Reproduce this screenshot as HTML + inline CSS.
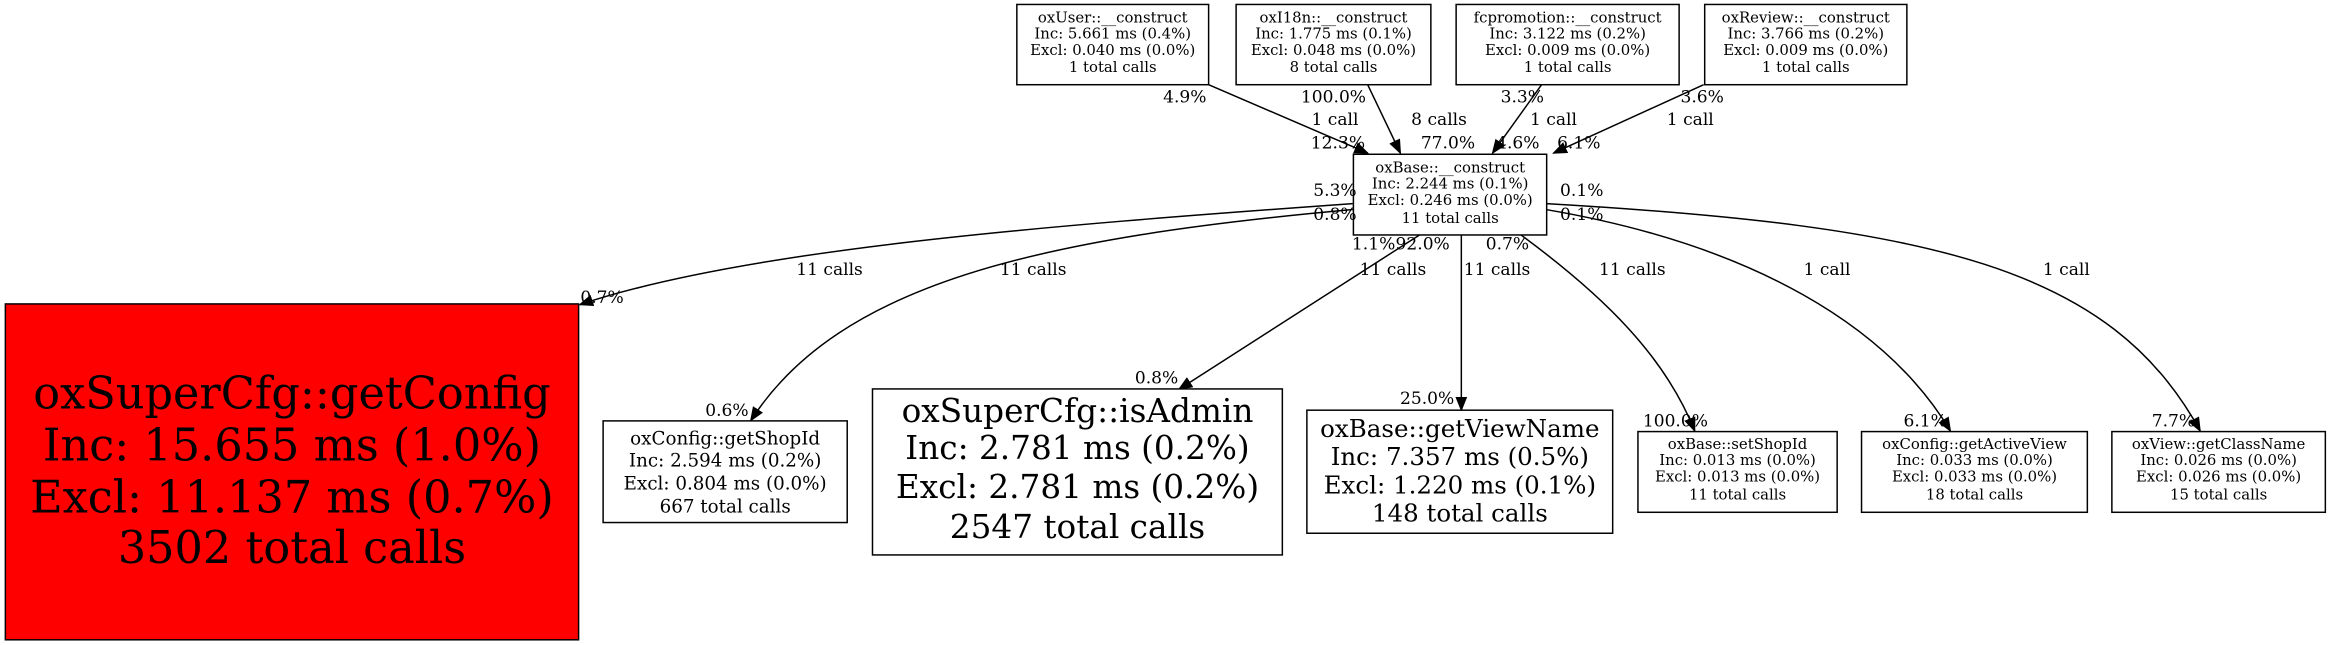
<!DOCTYPE html>
<html><head><meta charset="utf-8"><style>html,body{margin:0;padding:0;background:#fff}svg{display:block}</style></head>
<body>
<svg width="2331" height="645" viewBox="0 0 1568 434" preserveAspectRatio="none" xmlns="http://www.w3.org/2000/svg" font-family="DejaVu Serif, serif">
<defs><marker id="a" markerWidth="10" markerHeight="8" refX="9" refY="4" orient="auto" markerUnits="userSpaceOnUse"><path d="M0,0 L10,4 L0,8 z" fill="#000"/></marker></defs>
<g fill="none" stroke="#000" stroke-width="1" marker-end="url(#a)">
<path d="M813,57 L920,103"/>
<path d="M920,57 L942,103"/>
<path d="M1037,57 L1004,103"/>
<path d="M1146,57 L1045,103"/>
<path d="M910,137 C700,152 500,168 390,205"/>
<path d="M910,141 C700,160 565,190 505,283"/>
<path d="M955,158 L793,262"/>
<path d="M983,158 L983,276"/>
<path d="M1023,158 C1080,200 1120,240 1140,290"/>
<path d="M1040,141 C1180,165 1270,220 1312,290"/>
<path d="M1040,137 C1300,152 1420,180 1480,290"/>
</g>
<g stroke="#000" stroke-width="1">
<rect x="684" y="3" width="129" height="54" fill="#fff"/>
<rect x="831.5" y="3" width="131" height="54" fill="#fff"/>
<rect x="979.5" y="3" width="150" height="54" fill="#fff"/>
<rect x="1146.7" y="3" width="136" height="54" fill="#fff"/>
<rect x="910.4" y="103.8" width="130" height="54.3" fill="#fff"/>
<rect x="3.6" y="204.5" width="385.6" height="226" fill="#ff0000"/>
<rect x="405.7" y="283.2" width="164.2" height="68.4" fill="#fff"/>
<rect x="586.9" y="261.7" width="275.7" height="111.7" fill="#fff"/>
<rect x="879.1" y="276" width="205.7" height="82.8" fill="#fff"/>
<rect x="1101.8" y="290.4" width="134" height="54.3" fill="#fff"/>
<rect x="1252.2" y="290.4" width="151.9" height="54.3" fill="#fff"/>
<rect x="1420.6" y="290.4" width="143.6" height="54.3" fill="#fff"/>
</g>
<g text-anchor="middle" font-size="10">
<text x="748.5" y="15">oxUser::__construct</text><text x="748.5" y="26">Inc: 5.661 ms (0.4%)</text><text x="748.5" y="37">Excl: 0.040 ms (0.0%)</text><text x="748.5" y="48.5">1 total calls</text>
<text x="897" y="15">oxI18n::__construct</text><text x="897" y="26">Inc: 1.775 ms (0.1%)</text><text x="897" y="37">Excl: 0.048 ms (0.0%)</text><text x="897" y="48.5">8 total calls</text>
<text x="1054.5" y="15">fcpromotion::__construct</text><text x="1054.5" y="26">Inc: 3.122 ms (0.2%)</text><text x="1054.5" y="37">Excl: 0.009 ms (0.0%)</text><text x="1054.5" y="48.5">1 total calls</text>
<text x="1214.7" y="15">oxReview::__construct</text><text x="1214.7" y="26">Inc: 3.766 ms (0.2%)</text><text x="1214.7" y="37">Excl: 0.009 ms (0.0%)</text><text x="1214.7" y="48.5">1 total calls</text>
<text x="975.5" y="116">oxBase::__construct</text><text x="975.5" y="127">Inc: 2.244 ms (0.1%)</text><text x="975.5" y="138">Excl: 0.246 ms (0.0%)</text><text x="975.5" y="150">11 total calls</text>
<text x="1168.8" y="302">oxBase::setShopId</text><text x="1168.8" y="313">Inc: 0.013 ms (0.0%)</text><text x="1168.8" y="324">Excl: 0.013 ms (0.0%)</text><text x="1168.8" y="336">11 total calls</text>
<text x="1328.2" y="302">oxConfig::getActiveView</text><text x="1328.2" y="313">Inc: 0.033 ms (0.0%)</text><text x="1328.2" y="324">Excl: 0.033 ms (0.0%)</text><text x="1328.2" y="336">18 total calls</text>
<text x="1492.4" y="302">oxView::getClassName</text><text x="1492.4" y="313">Inc: 0.026 ms (0.0%)</text><text x="1492.4" y="324">Excl: 0.026 ms (0.0%)</text><text x="1492.4" y="336">15 total calls</text>
</g>
<g text-anchor="middle" font-size="12.3">
<text x="487.8" y="299">oxConfig::getShopId</text><text x="487.8" y="314">Inc: 2.594 ms (0.2%)</text><text x="487.8" y="329.5">Excl: 0.804 ms (0.0%)</text><text x="487.8" y="345">667 total calls</text>
</g>
<g text-anchor="middle" font-size="16.5">
<text x="982" y="294">oxBase::getViewName</text><text x="982" y="313">Inc: 7.357 ms (0.5%)</text><text x="982" y="332">Excl: 1.220 ms (0.1%)</text><text x="982" y="351">148 total calls</text>
</g>
<g text-anchor="middle" font-size="22">
<text x="724.8" y="284">oxSuperCfg::isAdmin</text><text x="724.8" y="309">Inc: 2.781 ms (0.2%)</text><text x="724.8" y="335">Excl: 2.781 ms (0.2%)</text><text x="724.8" y="362">2547 total calls</text>
</g>
<g text-anchor="middle" font-size="30">
<text x="196.4" y="275">oxSuperCfg::getConfig</text><text x="196.4" y="310">Inc: 15.655 ms (1.0%)</text><text x="196.4" y="345">Excl: 11.137 ms (0.7%)</text><text x="196.4" y="379">3502 total calls</text>
</g>
<g text-anchor="middle" font-size="11.5">
<text x="797" y="69">4.9%</text><text x="898" y="84">1 call</text><text x="900" y="100">12.3%</text>
<text x="897" y="69">100.0%</text><text x="968" y="84">8 calls</text><text x="974" y="100">77.0%</text>
<text x="1024" y="69">3.3%</text><text x="1045" y="84">1 call</text><text x="1021" y="100">4.6%</text>
<text x="1145" y="69">3.6%</text><text x="1137" y="84">1 call</text><text x="1062" y="100">6.1%</text>
<text x="898" y="132">5.3%</text><text x="898" y="148">0.8%</text>
<text x="1064" y="132">0.1%</text><text x="1064" y="148">0.1%</text>
<text x="924" y="168">1.1%</text><text x="957" y="168">92.0%</text><text x="1014" y="168">0.7%</text>
<text x="558" y="185">11 calls</text><text x="695" y="185">11 calls</text><text x="937" y="185">11 calls</text><text x="1007" y="185">11 calls</text><text x="1098" y="185">11 calls</text><text x="1229" y="185">1 call</text><text x="1390" y="185">1 call</text>
<text x="405" y="204">0.7%</text><text x="489" y="280">0.6%</text><text x="778" y="258">0.8%</text><text x="960" y="272">25.0%</text>
<text x="1127" y="287">100.0%</text><text x="1295" y="287">6.1%</text><text x="1462" y="287">7.7%</text>
</g>
</svg>
</body></html>
